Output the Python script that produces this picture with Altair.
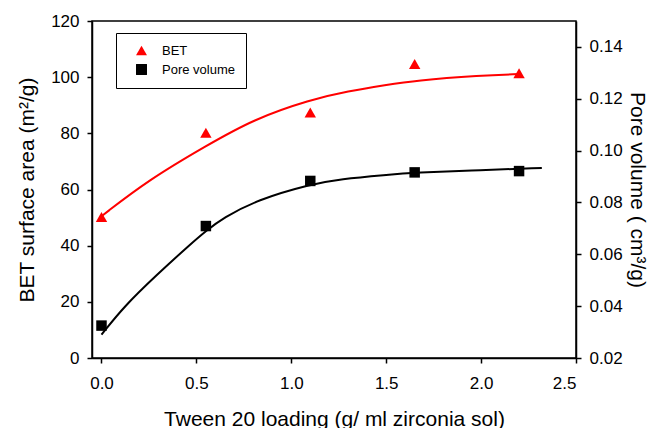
import altair as alt
import pandas as pd

# measured points
x_pts = [0.0, 0.55, 1.1, 1.65, 2.2]
bet_pts = [50.2, 80.2, 87.4, 104.7, 101.4]
pore_pts = [0.0325, 0.0709, 0.0883, 0.0916, 0.0921]

# fitted curves
bet_fit_x = [0.0, 0.25, 0.55, 0.8, 1.1, 1.3, 1.5, 1.65, 2.0, 2.2]
bet_fit_y = [50.5, 63.5, 75.5, 85.0, 92.0, 95.0, 97.2, 98.8, 100.6, 101.1]
pore_fit_x = [0.0, 0.12, 0.29, 0.47, 0.55, 0.64, 0.82, 1.1, 1.26, 1.5, 1.65, 2.0, 2.32]
pore_fit_y = [0.029, 0.040, 0.052, 0.064, 0.069, 0.074, 0.081, 0.087, 0.089,
              0.0906, 0.0915, 0.0925, 0.0933]

series_names = ["BET", "Pore volume"]
series_colors = ["#ff0000", "#000000"]
series_shapes = ["triangle-up", "square"]

bet_df = pd.DataFrame({"x": x_pts, "y": bet_pts, "series": "BET"})
pore_df = pd.DataFrame({"x": x_pts, "y": pore_pts, "series": "Pore volume"})
bet_fit = pd.DataFrame({"x": bet_fit_x, "y": bet_fit_y})
pore_fit = pd.DataFrame({"x": pore_fit_x, "y": pore_fit_y})

FONT = "Liberation Sans"

x_enc = alt.X("x:Q", scale=alt.Scale(domain=[-0.05, 2.5], nice=False, zero=False),
              axis=alt.Axis(values=[0.0, 0.5, 1.0, 1.5, 2.0, 2.5], format=".1f",
                            title="Tween 20 loading (g/ ml zirconia sol)",
                            titlePadding=17, labelPadding=12))

y_left_scale = alt.Scale(domain=[0, 120], nice=False)
y_right_scale = alt.Scale(domain=[0.02, 0.15], nice=False, zero=False)

left_axis = alt.Axis(values=[0, 20, 40, 60, 80, 100, 120], title="BET surface area (m²/g)",
                     titlePadding=13, labelPadding=8)
right_axis = alt.Axis(orient="right", values=[0.02, 0.04, 0.06, 0.08, 0.10, 0.12, 0.14],
                      format=".2f", title="Pore volume ( cm³/g)", titlePadding=4,
                      labelPadding=8, titleAngle=90)

color_enc = alt.Color("series:N", scale=alt.Scale(domain=series_names, range=series_colors),
                      legend=alt.Legend(orient="none", legendX=24, legendY=12, title=None,
                                        strokeColor="black", fillColor="white", padding=11,
                                        labelFontSize=13, labelFont=FONT, symbolSize=120,
                                        labelOffset=14, symbolOffset=8, rowPadding=5,
                                        symbolStrokeWidth=0))
shape_enc = alt.Shape("series:N", scale=alt.Scale(domain=series_names, range=series_shapes),
                      legend=alt.Legend(orient="none", legendX=24, legendY=12, title=None))

bet_line = alt.Chart(bet_fit).mark_line(color="#ff0000", strokeWidth=2, interpolate="basis").encode(
    x=x_enc, y=alt.Y("y:Q", scale=y_left_scale, axis=left_axis))
bet_points = alt.Chart(bet_df).mark_point(filled=True, size=130, opacity=1).encode(
    x=x_enc, y=alt.Y("y:Q", scale=y_left_scale, axis=left_axis), color=color_enc, shape=shape_enc)

pore_line = alt.Chart(pore_fit).mark_line(color="#000000", strokeWidth=2, interpolate="basis").encode(
    x=x_enc, y=alt.Y("y:Q", scale=y_right_scale, axis=right_axis))
pore_points = alt.Chart(pore_df).mark_point(filled=True, size=110, opacity=1).encode(
    x=x_enc, y=alt.Y("y:Q", scale=y_right_scale, axis=right_axis), color=color_enc, shape=shape_enc)

left = alt.layer(bet_line, bet_points)
right = alt.layer(pore_line, pore_points)

chart = alt.layer(left, right).resolve_scale(y="independent").properties(
    width=484, height=337,
    autosize=alt.AutoSizeParams(type="none"),
    padding={"left": 84, "top": 13, "right": 76, "bottom": 70},
    background="white",
).configure_view(stroke="black", strokeWidth=1.5).configure_axis(
    grid=False, domainColor="black", domainWidth=1.5, tickColor="black", tickWidth=1.5,
    tickSize=5, labelColor="black", labelFont=FONT, labelFontSize=17,
    titleColor="black", titleFont=FONT, titleFontSize=21, titleFontWeight="normal",
)

chart.save("out.html", embed_options={"renderer": "svg", "actions": False})
